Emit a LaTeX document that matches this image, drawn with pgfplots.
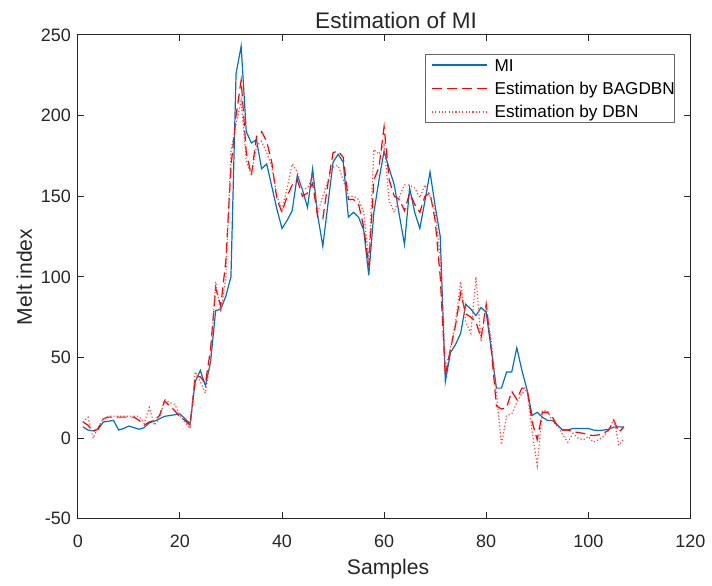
\documentclass[border=0pt]{standalone}
\usepackage{pgfplots}
\pgfplotsset{compat=1.18}
\usepackage{pgfplotstable}
\usepackage{fontspec}
\setmainfont{Liberation Sans}
\usetikzlibrary{calc}
\definecolor{mblue}{rgb}{0,0.447,0.741}
\definecolor{dbnred}{rgb}{1,0.25,0.25}
\definecolor{axgray}{HTML}{262626}
\pgfplotstableread{
s MI B D
1 7 10 10
2 5 8 13
3 4.5 4 0
4 5.5 6 7
5 10 12 12
6 10.5 13 13.5
7 11 13 13.5
8 5 13 13.5
9 6 13 13.5
10 7.5 13 13.5
11 6.5 13 13.5
12 5.5 11 13.5
13 6.5 8 9
14 9.5 10 19
15 10.5 11 8
16 12 14 12
17 13.5 23 24
18 14 20 22
19 14.5 17 21
20 15 13 14
21 12 11 10
22 9 8 6
23 35 38 41
24 42 38 35
25 32.5 34 28
26 47 55 48
27 79 93 97
28 80 82 78
29 88 110 100
30 100 168 178
31 226 200 195
32 243 222 209
33 190 177 172
34 183 163 163
35 185 187 181
36 167 190 184
37 170 184 177
38 156 171 168
39 142 148 150
40 130 140 142
41 135 150 155
42 141 157 170
43 163 160 165
44 154 150 154
45 143 152 155
46 167 158 162
47 138 137 140
48 119 136 150
49 145 158 160
50 171 177 168
51 176 178 169
52 171 174 160
53 137 148 150
54 140 148 150
55 137 145 148
56 129 131 140
57 101 107 111
58 140 160 179
59 160 168 176
60 178 193 182
61 167 160 147
62 157 150 140
63 138 148 150
64 120 141 157
65 155 152 157
66 140 145 155
67 130 140 149
68 147 150 157
69 165 152 150
70 144 135 140
71 125 100 112
72 35 39 42
73 53 55 56
74 58 70 72
75 65 90 97
76 83 77 72
77 80 75 65
78 76 72 100
79 81 62 60
80 78 83 82
81 55 55 60
82 31 20 28
83 31 18 -4
84 41 19 14
85 41 29 15
86 56 24 22
87 42 31 28
88 30 31 30
89 14 10 4
90 16 -1 -17
91 13 16 17
92 11 16 17
93 11 13 10
94 8 7 8
95 5 5 2
96 5 5 -2.5
97 6 4 3
98 6 3.5 0
99 6 3 -1
100 6 2 1
101 5 1.6 -2.5
102 4.7 2 -1
103 5 3 1
104 5.5 5 5
105 6.8 11 12
106 7 3.7 -4.5
107 6.8 7 0
}\datatable
\begin{document}
\begin{tikzpicture}
\begin{axis}[
  name=ax,
  scale only axis,
  width=307pt, height=242.5pt,
  xmin=0, xmax=120, ymin=-50, ymax=250,
  xtick={0,20,...,120}, ytick={-50,0,...,250},
  tick pos=both, tick align=inside, major tick length=3.3pt,
  axis line style={axgray, line width=0.5pt},
  every tick/.style={axgray, line width=0.5pt},
  /pgf/number format/assume math mode=true,
  ticklabel style={font=\fontsize{9}{10}\selectfont, text=axgray},
  xticklabel style={yshift=-4.5pt},
  every axis title shift=0pt,
  title={Estimation of MI},
  title style={font=\fontsize{11.3}{13}\selectfont, text=axgray, at={(axis description cs:0.5,1)}, anchor=base, yshift=3.4pt, xshift=6pt},
  xlabel={Samples},
  xlabel style={font=\fontsize{10.6}{12}\selectfont, text=axgray, at={(axis description cs:0.5,0)}, anchor=base, yshift=-28pt, xshift=2pt},
  ylabel={Melt index},
  ylabel style={font=\fontsize{10.6}{12}\selectfont, text=axgray, at={(axis description cs:0,0.5)}, anchor=base, yshift=23pt},
  legend cell align=left,
  legend style={at={(axis description cs:1,1)}, anchor=north east, xshift=-7.6pt, yshift=-9.6pt,
    draw=axgray!70, fill=white, line width=0.4pt, font=\fontsize{8.6}{10}\selectfont,
    inner xsep=0pt, inner ysep=0.5pt, row sep=2pt, column sep=0pt,
    nodes={inner xsep=0pt, inner ysep=1.6pt, text height=6.2pt, text depth=0.3pt}},
]
\addplot[draw=mblue, line width=0.6pt,
  legend image code/.code={\path[draw=none] (0pt,0pt) -- (34.5pt,0pt); \draw[draw=mblue, line width=0.9pt, solid] (3pt,0pt) -- (30.8pt,0pt);}]
  table[x=s, y=MI] {\datatable};
\addlegendentry{MI}
\addplot[draw=red, line width=0.6pt, dash pattern=on 5pt off 2.5pt,
  legend image code/.code={\path[draw=none] (0pt,0pt) -- (34.5pt,0pt); \draw[draw=red, line width=0.9pt, dash pattern=on 5pt off 2.5pt] (3pt,0pt) -- (30.8pt,0pt);}]
  table[x=s, y=B] {\datatable};
\addlegendentry{Estimation by BAGDBN}
\addplot[draw=dbnred, line width=0.6pt, dash pattern=on 0.6pt off 1.1pt,
  legend image code/.code={\path[draw=none] (0pt,0pt) -- (34.5pt,0pt); \draw[draw=dbnred, line width=0.9pt, dash pattern=on 0.6pt off 1.1pt] (3pt,0pt) -- (30.8pt,0pt);}]
  table[x=s, y=D] {\datatable};
\addlegendentry{Estimation by DBN}
\end{axis}
\path ($(ax.south west)+(-39pt,-29.5pt)$) rectangle ($(ax.north east)+(10pt,17.5pt)$);
\end{tikzpicture}
\end{document}
